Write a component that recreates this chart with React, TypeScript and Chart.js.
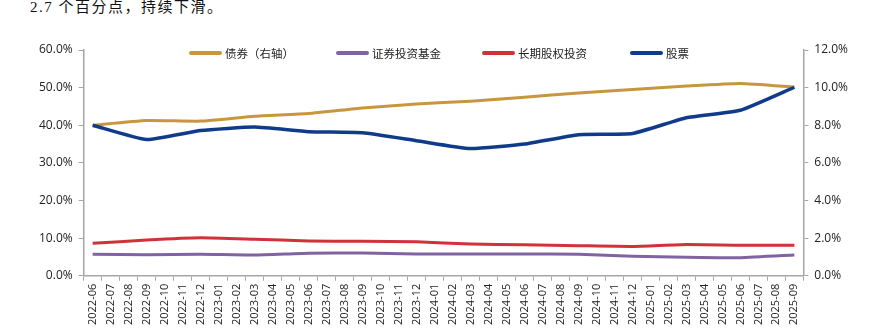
import React, { useEffect, useRef } from "react";
import { Chart, registerables } from "chart.js";

Chart.register(...registerables);

const categories = [
  "2022-06", "2022-07", "2022-08", "2022-09", "2022-10", "2022-11", "2022-12",
  "2023-01", "2023-02", "2023-03", "2023-04", "2023-05", "2023-06", "2023-07",
  "2023-08", "2023-09", "2023-10", "2023-11", "2023-12", "2024-01", "2024-02",
  "2024-03", "2024-04", "2024-05", "2024-06", "2024-07", "2024-08", "2024-09",
  "2024-10", "2024-11", "2024-12", "2025-01", "2025-02", "2025-03", "2025-04",
  "2025-05", "2025-06", "2025-07", "2025-08", "2025-09",
];

const quarterLabels = [
  "2022-06", "2022-09", "2022-12", "2023-03", "2023-06", "2023-09", "2023-12",
  "2024-03", "2024-06", "2024-09", "2024-12", "2025-03", "2025-06", "2025-09",
];

// 债券（右轴）, %
const bonds = [8.0, 8.25, 8.22, 8.48, 8.62, 8.92, 9.13, 9.28, 9.49, 9.72, 9.9, 10.08, 10.22, 10.03];
// 证券投资基金, %
const funds = [5.7, 5.6, 5.7, 5.5, 6.0, 6.05, 5.8, 5.8, 5.8, 5.7, 5.2, 4.9, 4.8, 5.5];
// 长期股权投资, %
const equityInv = [8.6, 9.5, 10.1, 9.7, 9.25, 9.15, 9.0, 8.45, 8.2, 8.0, 7.8, 8.3, 8.1, 8.1];
// 股票, %
const stocks = [40.0, 36.2, 38.6, 39.5, 38.3, 38.0, 35.9, 33.8, 35.0, 37.5, 37.8, 42.0, 44.0, 50.1];

const leftTicks = [0, 10, 20, 30, 40, 50, 60];
const rightTicks = [0, 2, 4, 6, 8, 10, 12];

const seriesNames = ["债券（右轴）", "证券投资基金", "长期股权投资", "股票"];
const seriesColors = ["#C8963C", "#8064A2", "#D0323A", "#103B8A"];
const seriesWidths = [3, 3, 3, 3.5];

const toPoints = (vals: number[]) => quarterLabels.map((x, i) => ({ x, y: vals[i] }));

const FONT = "'Open Sans', 'Noto Sans CJK SC', sans-serif";
const CJK = "'Noto Sans CJK SC', 'Open Sans', sans-serif";

export default function App() {
  const ref = useRef<HTMLCanvasElement | null>(null);

  useEffect(() => {
    if (!ref.current) return;
    const seriesData = [bonds, funds, equityInv, stocks];
    const axes = ["y1", "y", "y", "y"];
    const orders = [3, 2, 1, 0];
    const chart = new Chart(ref.current, {
      type: "line",
      data: {
        labels: categories,
        datasets: seriesNames.map((name, i) => ({
          label: name,
          data: toPoints(seriesData[i]),
          borderColor: seriesColors[i],
          backgroundColor: seriesColors[i],
          borderWidth: seriesWidths[i],
          pointRadius: 0,
          tension: 0.15,
          yAxisID: axes[i],
          order: orders[i],
          fill: false,
        })),
      },
      options: {
        responsive: false,
        animation: false,
        layout: { padding: { left: 33, right: 27, top: 50, bottom: 6 } },
        plugins: {
          legend: { display: false },
          tooltip: { enabled: false },
        },
        scales: {
          x: {
            type: "category",
            offset: true,
            grid: {
              offset: true,
              drawOnChartArea: false,
              drawTicks: true,
              tickLength: 5,
              color: "#A6A6A6",
            },
            border: { color: "#A6A6A6", width: 1.5 },
            ticks: {
              autoSkip: false,
              maxRotation: 90,
              minRotation: 90,
              padding: 3,
              color: "#222",
              font: { family: FONT, size: 11 },
            },
          },
          y: {
            position: "left",
            min: 0,
            max: 60,
            afterBuildTicks: (s: any) => {
              s.ticks = leftTicks.map((v) => ({ value: v }));
            },
            grid: { drawOnChartArea: false, tickLength: 5, color: "#A6A6A6" },
            border: { color: "#A6A6A6", width: 1.5 },
            ticks: {
              padding: 6,
              color: "#222",
              font: { family: FONT, size: 12 },
              callback: (v: any) => Number(v).toFixed(1) + "%",
            },
          },
          y1: {
            position: "right",
            min: 0,
            max: 12,
            afterBuildTicks: (s: any) => {
              s.ticks = rightTicks.map((v) => ({ value: v }));
            },
            grid: { drawOnChartArea: false, tickLength: 5, color: "#A6A6A6" },
            border: { color: "#A6A6A6", width: 1.5 },
            ticks: {
              padding: 6,
              color: "#222",
              font: { family: FONT, size: 12 },
              callback: (v: any) => Number(v).toFixed(1) + "%",
            },
          },
        },
      },
    });
    return () => chart.destroy();
  }, []);

  const legendLeft = [189, 336, 482, 630];

  return (
    <div style={{ position: "fixed", left: 0, top: 0, width: 881, height: 334, background: "#fff", overflow: "hidden" }}>
      <div
        style={{
          position: "absolute",
          left: 30,
          top: -3,
          fontFamily: "'Liberation Serif', 'Noto Sans CJK SC', serif",
          fontSize: 15,
          letterSpacing: 1.5,
          lineHeight: "20px",
          color: "#111",
          whiteSpace: "nowrap",
        }}
      >
        2.7 个百分点，持续下滑。
      </div>
      <canvas ref={ref} width={881} height={334} style={{ position: "absolute", left: 0, top: 0, display: "block" }} />
      {seriesNames.map((name, i) => (
        <div
          key={name}
          style={{
            position: "absolute",
            left: legendLeft[i],
            top: 45,
            height: 16,
            display: "flex",
            alignItems: "center",
            whiteSpace: "nowrap",
          }}
        >
          <span
            style={{
              display: "inline-block",
              width: 33,
              height: 3.5,
              borderRadius: 2,
              background: seriesColors[i],
              marginRight: 3,
            }}
          />
          <span style={{ fontFamily: CJK, fontSize: 11.5, color: "#222" }}>{name}</span>
        </div>
      ))}
    </div>
  );
}
